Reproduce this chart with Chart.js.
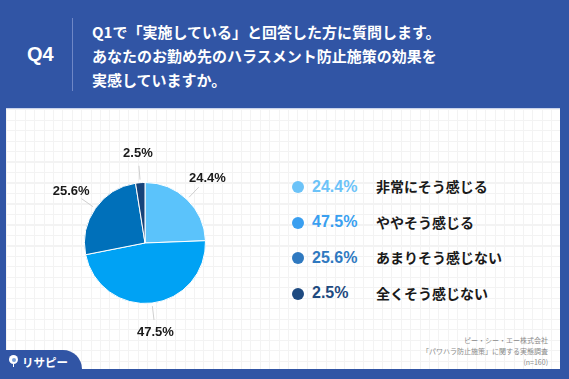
<!DOCTYPE html>
<html lang="ja">
<head>
<meta charset="utf-8">
<script src="https://cdn.jsdelivr.net/npm/chart.js@4.4.1/dist/chart.umd.min.js"></script>
<style>
  html, body { margin:0; padding:0; }
  body { width:569px; height:379px; background:#3155a5; position:relative; overflow:hidden;
         font-family:"Liberation Sans","Noto Sans CJK JP",sans-serif; }
  .q { position:absolute; left:27px; top:43px; color:#fff; font:700 20px "Liberation Sans",sans-serif; }
  .vline { position:absolute; left:72px; top:18px; width:1px; height:73px; background:#6f87c6; }
  .title { position:absolute; left:92px; top:20px; color:#fff; font:700 15px/24px "Noto Sans CJK JP",sans-serif; letter-spacing:0px; }
  .panel { position:absolute; left:6px; top:109px; width:554px; height:260px; background-color:#fff;
           background-image:
             repeating-linear-gradient(to right, #f3f3f3 0 1px, transparent 1px 9.4px),
             repeating-linear-gradient(to bottom, #f3f3f3 0 1px, transparent 1px 10.5px);
           box-shadow: 0 -1px 0 #c9d3ec; }
  .tab { position:absolute; left:6px; top:350px; width:76px; height:19px; background:#3155a5; border-top-right-radius:19px; }
  .logo { position:absolute; left:22px; top:354px; color:#fff; font:700 11.5px "Noto Sans CJK JP",sans-serif; letter-spacing:0px; }
  .pin { position:absolute; left:9px; top:355px; width:9px; height:9px; border-radius:50%; background:#fff; }
  .pin::after { content:""; position:absolute; left:2.5px; top:2.5px; width:4px; height:4px; border-radius:50%; background:#7aa0d8; }
  .pinstem { position:absolute; left:13px; top:364px; width:1px; height:3px; background:#fff; }
  #wrap { position:absolute; left:25px; top:123px; width:240px; height:240px; }
  .dot { position:absolute; width:12px; height:12px; border-radius:50%; }
  .pct { position:absolute; font:700 16px "Liberation Sans",sans-serif; white-space:nowrap; }
  .lab { position:absolute; font:700 14px "Noto Sans CJK JP",sans-serif; color:#1a1a1a; white-space:nowrap; }
  .src { position:absolute; right:21px; top:335px; text-align:right; color:#8a8a8a; font:400 7px/11px "Noto Sans CJK JP",sans-serif; }
</style>
</head>
<body>
<div class="q">Q4</div>
<div class="vline"></div>
<div class="title">Q1で「実施している」と回答した方に質問します。<br>あなたのお勤め先のハラスメント防止施策の効果を<br>実感していますか。</div>
<div class="panel"></div>
<div class="tab"></div>
<div class="pin"></div><div class="pinstem"></div>
<div class="logo">リサピー</div>
<div id="wrap"><canvas id="c" width="240" height="240"></canvas></div>
<div id="legend"></div>
<div class="src">ピー・シー・エー株式会社<br>「パワハラ防止施策」に関する実態調査<br>(n=160)</div>
<script>
const categories = ['非常にそう感じる', 'ややそう感じる', 'あまりそう感じない', '全くそう感じない'];
const values = [24.4, 47.5, 25.6, 2.5];
const valueLabels = ['24.4%', '47.5%', '25.6%', '2.5%'];

const pieColors = ['#5bc3fb', '#00a2f4', '#0070ba', '#16437a'];
const legendColors = ['#6cc3f8', '#3a9ff0', '#2f79c0', '#1e4a80'];

// legend
const legend = document.getElementById('legend');
const rowTop = 187, rowGap = 35.5;
categories.forEach((c, i) => {
  const y = rowTop + i * rowGap;
  const dot = document.createElement('div');
  dot.className = 'dot';
  dot.style.left = '292px'; dot.style.top = (y - 6) + 'px';
  dot.style.background = legendColors[i];
  const pct = document.createElement('div');
  pct.className = 'pct';
  pct.style.left = '312px'; pct.style.top = (y - 9.5) + 'px';
  pct.style.color = legendColors[i];
  pct.textContent = valueLabels[i];
  const lab = document.createElement('div');
  lab.className = 'lab';
  lab.style.left = '376px'; lab.style.top = (y - 11) + 'px';
  lab.textContent = c;
  legend.append(dot, pct, lab);
});

const outerLabels = {
  id: 'outerLabels',
  afterDatasetsDraw(chart) {
    const ctx = chart.ctx;
    const meta = chart.getDatasetMeta(0);
    meta.data.forEach((arc, i) => {
      const p = arc.getProps(['x', 'y', 'startAngle', 'endAngle', 'outerRadius'], true);
      const mid = (p.startAngle + p.endAngle) / 2;
      const cos = Math.cos(mid), sin = Math.sin(mid);
      ctx.save();
      ctx.strokeStyle = '#cfcfcf';
      ctx.lineWidth = 1;
      ctx.beginPath();
      ctx.moveTo(p.x + cos * (p.outerRadius + 3), p.y + sin * (p.outerRadius + 3));
      ctx.lineTo(p.x + cos * (p.outerRadius + 17), p.y + sin * (p.outerRadius + 17));
      ctx.stroke();
      ctx.fillStyle = '#1a1a1a';
      ctx.font = '700 13px "Liberation Sans", sans-serif';
      ctx.textAlign = 'center';
      ctx.textBaseline = 'middle';
      const r = p.outerRadius + 29.5;
      ctx.fillText(valueLabels[i], p.x + cos * r, p.y + sin * r);
      ctx.restore();
    });
  }
};

new Chart(document.getElementById('c'), {
  type: 'pie',
  data: {
    labels: categories,
    datasets: [{ data: values, backgroundColor: pieColors, borderColor: '#ffffff', borderWidth: 1 }]
  },
  options: {
    responsive: false,
    animation: false,
    layout: { padding: 59 },
    plugins: { legend: { display: false }, tooltip: { enabled: false } }
  },
  plugins: [outerLabels]
});
</script>
</body>
</html>
